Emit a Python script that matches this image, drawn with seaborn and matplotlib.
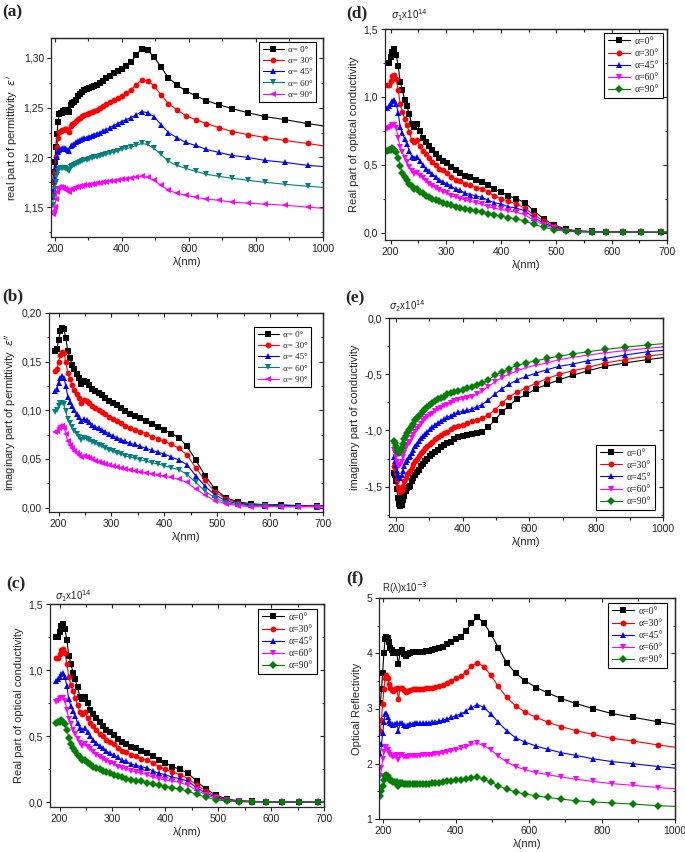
import matplotlib
matplotlib.use("Agg")
import matplotlib.pyplot as plt
from matplotlib.ticker import MultipleLocator, FuncFormatter
import seaborn as sns

# wavelength grid (nm)
lam = [193.8, 196.8, 200.0, 203.3, 206.7, 210.2, 213.8, 217.5, 221.4, 225.5,
       229.6, 234.0, 238.5, 243.1, 248.0, 253.1, 258.3, 263.8, 269.6, 275.6,
       281.8, 288.4, 295.2, 302.4, 310.0, 317.9, 326.3, 335.1, 344.4, 354.3,
       364.7, 375.8, 387.5, 400.0, 413.3, 427.6, 442.9, 459.3, 476.9, 496.0,
       516.7, 539.1, 563.6, 590.5, 620.0, 652.6, 688.9, 729.4, 775.0, 826.7,
       885.7, 953.8, 1033.3]

# (a) real part of permittivity
e1_0 = [1.175, 1.185, 1.195, 1.210, 1.224, 1.236, 1.244, 1.245, 1.245, 1.247,
        1.248, 1.246, 1.248, 1.246, 1.253, 1.255, 1.256, 1.258, 1.262, 1.264,
        1.266, 1.268, 1.269, 1.270, 1.271, 1.272, 1.273, 1.275, 1.277, 1.280,
        1.282, 1.285, 1.287, 1.289, 1.292, 1.296, 1.303, 1.309, 1.308, 1.301,
        1.291, 1.280, 1.273, 1.267, 1.262, 1.257, 1.253, 1.249, 1.245, 1.241,
        1.238, 1.234, 1.230]
e1_30 = [1.165, 1.175, 1.185, 1.200, 1.210, 1.220, 1.226, 1.227, 1.228, 1.228,
         1.229, 1.229, 1.228, 1.226, 1.232, 1.234, 1.235, 1.237, 1.239, 1.240,
         1.242, 1.243, 1.244, 1.245, 1.246, 1.247, 1.248, 1.250, 1.252, 1.254,
         1.256, 1.258, 1.260, 1.262, 1.265, 1.268, 1.273, 1.278, 1.277, 1.272,
         1.263, 1.254, 1.248, 1.242, 1.238, 1.234, 1.230, 1.226, 1.223, 1.220,
         1.217, 1.214, 1.210]
e1_45 = [1.160, 1.168, 1.178, 1.190, 1.200, 1.205, 1.207, 1.208, 1.208, 1.209,
         1.209, 1.208, 1.207, 1.206, 1.211, 1.212, 1.213, 1.215, 1.216, 1.217,
         1.218, 1.219, 1.220, 1.221, 1.222, 1.223, 1.224, 1.225, 1.227, 1.228,
         1.230, 1.232, 1.234, 1.236, 1.238, 1.240, 1.243, 1.246, 1.245, 1.241,
         1.233, 1.225, 1.220, 1.215, 1.212, 1.208, 1.205, 1.202, 1.200, 1.197,
         1.195, 1.192, 1.190]
e1_60 = [1.152, 1.160, 1.168, 1.175, 1.182, 1.186, 1.188, 1.189, 1.189, 1.189,
         1.189, 1.188, 1.187, 1.186, 1.190, 1.191, 1.192, 1.193, 1.194, 1.195,
         1.196, 1.197, 1.197, 1.198, 1.199, 1.200, 1.200, 1.201, 1.202, 1.203,
         1.204, 1.205, 1.206, 1.208, 1.209, 1.210, 1.212, 1.214, 1.213, 1.209,
         1.203, 1.196, 1.192, 1.189, 1.186, 1.183, 1.181, 1.179, 1.177, 1.175,
         1.173, 1.171, 1.169]
e1_90 = [1.143, 1.146, 1.150, 1.158, 1.165, 1.169, 1.170, 1.170, 1.169, 1.169,
         1.168, 1.167, 1.166, 1.165, 1.168, 1.168, 1.169, 1.170, 1.170, 1.171,
         1.171, 1.172, 1.172, 1.172, 1.173, 1.173, 1.174, 1.174, 1.175, 1.175,
         1.176, 1.176, 1.177, 1.178, 1.178, 1.179, 1.180, 1.181, 1.180, 1.177,
         1.172, 1.167, 1.164, 1.162, 1.160, 1.158, 1.157, 1.155, 1.154, 1.153,
         1.152, 1.150, 1.148]

# (b) imaginary part of permittivity
e2_0 = [0.161, 0.163, 0.172, 0.181, 0.185, 0.184, 0.174, 0.161, 0.154, 0.147,
        0.142, 0.137, 0.133, 0.127, 0.130, 0.129, 0.126, 0.122, 0.120, 0.118,
        0.116, 0.113, 0.110, 0.107, 0.105, 0.102, 0.099, 0.096, 0.094, 0.092,
        0.089, 0.086, 0.083, 0.080, 0.076, 0.072, 0.063, 0.049, 0.033, 0.019,
        0.010, 0.006, 0.004, 0.003, 0.003, 0.002, 0.002, 0.002, 0.001, 0.001,
        0.001, 0.001, 0.001]
e2_30 = [0.140, 0.142, 0.150, 0.157, 0.160, 0.159, 0.150, 0.138, 0.132, 0.126,
         0.121, 0.117, 0.113, 0.108, 0.111, 0.110, 0.107, 0.104, 0.102, 0.100,
         0.098, 0.096, 0.093, 0.091, 0.089, 0.087, 0.084, 0.082, 0.080, 0.078,
         0.076, 0.073, 0.071, 0.068, 0.065, 0.061, 0.054, 0.041, 0.028, 0.016,
         0.009, 0.005, 0.003, 0.003, 0.002, 0.002, 0.002, 0.001, 0.001, 0.001,
         0.001, 0.001, 0.001]
e2_45 = [0.120, 0.122, 0.128, 0.133, 0.135, 0.133, 0.125, 0.114, 0.109, 0.104,
         0.100, 0.096, 0.093, 0.089, 0.091, 0.090, 0.088, 0.085, 0.083, 0.082,
         0.080, 0.078, 0.076, 0.074, 0.072, 0.070, 0.068, 0.066, 0.065, 0.063,
         0.061, 0.059, 0.057, 0.055, 0.052, 0.049, 0.044, 0.033, 0.022, 0.013,
         0.007, 0.004, 0.003, 0.002, 0.002, 0.002, 0.001, 0.001, 0.001, 0.001,
         0.001, 0.001, 0.001]
e2_60 = [0.098, 0.100, 0.104, 0.107, 0.108, 0.106, 0.099, 0.091, 0.087, 0.083,
         0.079, 0.076, 0.073, 0.070, 0.072, 0.071, 0.069, 0.067, 0.066, 0.064,
         0.063, 0.061, 0.059, 0.058, 0.056, 0.055, 0.053, 0.052, 0.051, 0.049,
         0.048, 0.046, 0.045, 0.043, 0.041, 0.039, 0.034, 0.026, 0.017, 0.010,
         0.005, 0.003, 0.002, 0.002, 0.001, 0.001, 0.001, 0.001, 0.001, 0.001,
         0.001, 0.001, 0.001]
e2_90 = [0.078, 0.079, 0.082, 0.084, 0.084, 0.082, 0.076, 0.068, 0.064, 0.061,
         0.058, 0.056, 0.054, 0.052, 0.053, 0.052, 0.051, 0.050, 0.048, 0.047,
         0.046, 0.045, 0.044, 0.043, 0.042, 0.041, 0.040, 0.039, 0.038, 0.037,
         0.036, 0.035, 0.034, 0.032, 0.031, 0.029, 0.026, 0.019, 0.013, 0.007,
         0.004, 0.002, 0.001, 0.001, 0.001, 0.001, 0.001, 0.001, 0.001, 0.001,
         0.001, 0.001, 0.001]

# (c)/(d) real part of optical conductivity, x1e14
s1_0 = [1.25, 1.25, 1.29, 1.33, 1.35, 1.31, 1.23, 1.11, 1.05, 0.98,
        0.93, 0.87, 0.80, 0.78, 0.80, 0.75, 0.70, 0.67, 0.64, 0.61,
        0.58, 0.55, 0.53, 0.51, 0.48, 0.46, 0.44, 0.42, 0.41, 0.39,
        0.37, 0.35, 0.32, 0.30, 0.27, 0.25, 0.22, 0.16, 0.10, 0.055,
        0.025, 0.012, 0.008, 0.005, 0.004, 0.003, 0.002, 0.002, 0.002, 0.001,
        0.001, 0.001, 0.001]
s1_30 = [1.09, 1.09, 1.12, 1.15, 1.16, 1.13, 1.05, 0.95, 0.89, 0.84,
         0.79, 0.74, 0.68, 0.67, 0.68, 0.64, 0.60, 0.58, 0.55, 0.52,
         0.50, 0.47, 0.46, 0.44, 0.41, 0.39, 0.38, 0.36, 0.35, 0.33,
         0.32, 0.30, 0.27, 0.25, 0.23, 0.21, 0.18, 0.13, 0.085, 0.045,
         0.021, 0.010, 0.007, 0.005, 0.004, 0.003, 0.002, 0.002, 0.001, 0.001,
         0.001, 0.001, 0.001]
s1_45 = [0.92, 0.93, 0.95, 0.97, 0.98, 0.95, 0.88, 0.78, 0.73, 0.69,
         0.65, 0.60, 0.56, 0.55, 0.56, 0.53, 0.50, 0.47, 0.45, 0.43,
         0.41, 0.39, 0.37, 0.36, 0.34, 0.32, 0.31, 0.29, 0.28, 0.27,
         0.26, 0.24, 0.22, 0.21, 0.19, 0.18, 0.16, 0.11, 0.07, 0.038,
         0.018, 0.009, 0.006, 0.004, 0.003, 0.002, 0.002, 0.001, 0.001, 0.001,
         0.001, 0.001, 0.001]
s1_60 = [0.76, 0.77, 0.78, 0.79, 0.79, 0.77, 0.70, 0.63, 0.59, 0.55,
         0.52, 0.48, 0.45, 0.43, 0.44, 0.42, 0.40, 0.38, 0.36, 0.34,
         0.33, 0.31, 0.30, 0.29, 0.27, 0.26, 0.25, 0.24, 0.23, 0.22,
         0.21, 0.19, 0.18, 0.17, 0.16, 0.15, 0.13, 0.09, 0.058, 0.03,
         0.015, 0.007, 0.005, 0.003, 0.002, 0.002, 0.001, 0.001, 0.001, 0.001,
         0.001, 0.001, 0.001]
s1_90 = [0.60, 0.61, 0.61, 0.62, 0.61, 0.59, 0.55, 0.49, 0.44, 0.41,
         0.39, 0.36, 0.34, 0.32, 0.32, 0.30, 0.29, 0.27, 0.26, 0.25,
         0.24, 0.23, 0.22, 0.21, 0.20, 0.19, 0.18, 0.17, 0.165, 0.16,
         0.15, 0.14, 0.13, 0.12, 0.11, 0.10, 0.085, 0.06, 0.04, 0.02,
         0.01, 0.005, 0.003, 0.002, 0.002, 0.001, 0.001, 0.001, 0.001, 0.001,
         0.001, 0.001, 0.001]

# (e) imaginary part of conductivity, x1e14
s2_0 = [-1.38, -1.40, -1.45, -1.52, -1.60, -1.65, -1.67, -1.66, -1.62, -1.58,
        -1.54, -1.51, -1.50, -1.49, -1.45, -1.42, -1.40, -1.37, -1.35, -1.32,
        -1.30, -1.27, -1.25, -1.23, -1.21, -1.19, -1.17, -1.15, -1.13, -1.11,
        -1.10, -1.08, -1.06, -1.05, -1.04, -1.03, -1.02, -1.01, -0.97, -0.91,
        -0.84, -0.78, -0.72, -0.68, -0.63, -0.59, -0.55, -0.51, -0.47, -0.43,
        -0.40, -0.37, -0.34]
s2_30 = [-1.32, -1.34, -1.38, -1.44, -1.50, -1.54, -1.55, -1.53, -1.49, -1.45,
         -1.42, -1.39, -1.37, -1.36, -1.33, -1.30, -1.27, -1.25, -1.23, -1.20,
         -1.18, -1.16, -1.14, -1.12, -1.10, -1.08, -1.06, -1.04, -1.02, -1.01,
         -0.99, -0.97, -0.96, -0.95, -0.93, -0.92, -0.91, -0.89, -0.86, -0.82,
         -0.76, -0.70, -0.66, -0.62, -0.58, -0.54, -0.50, -0.47, -0.44, -0.40,
         -0.37, -0.34, -0.31]
s2_45 = [-1.24, -1.27, -1.31, -1.36, -1.40, -1.42, -1.42, -1.40, -1.36, -1.32,
         -1.28, -1.26, -1.24, -1.23, -1.20, -1.17, -1.14, -1.12, -1.09, -1.07,
         -1.05, -1.03, -1.01, -0.99, -0.97, -0.95, -0.93, -0.92, -0.90, -0.88,
         -0.87, -0.85, -0.84, -0.83, -0.82, -0.81, -0.79, -0.77, -0.73, -0.68,
         -0.63, -0.59, -0.55, -0.52, -0.49, -0.46, -0.43, -0.41, -0.38, -0.36,
         -0.33, -0.30, -0.28]
s2_60 = [-1.17, -1.20, -1.24, -1.28, -1.31, -1.32, -1.31, -1.28, -1.24, -1.20,
         -1.16, -1.13, -1.11, -1.10, -1.07, -1.04, -1.01, -0.99, -0.97, -0.94,
         -0.92, -0.90, -0.88, -0.86, -0.85, -0.83, -0.81, -0.80, -0.78, -0.77,
         -0.76, -0.74, -0.73, -0.72, -0.71, -0.70, -0.68, -0.65, -0.61, -0.57,
         -0.53, -0.50, -0.47, -0.44, -0.42, -0.40, -0.37, -0.35, -0.33, -0.31,
         -0.29, -0.27, -0.25]
s2_90 = [-1.09, -1.11, -1.14, -1.17, -1.19, -1.20, -1.19, -1.16, -1.12, -1.08,
         -1.05, -1.02, -1.00, -0.99, -0.96, -0.94, -0.91, -0.89, -0.87, -0.85,
         -0.83, -0.81, -0.79, -0.77, -0.76, -0.74, -0.72, -0.71, -0.70, -0.68,
         -0.67, -0.66, -0.65, -0.64, -0.62, -0.61, -0.60, -0.58, -0.55, -0.51,
         -0.48, -0.45, -0.42, -0.40, -0.38, -0.36, -0.34, -0.32, -0.30, -0.28,
         -0.26, -0.24, -0.22]

# (f) optical reflectivity, x1e-3
r_0 = [3.10, 3.35, 3.65, 4.00, 4.25, 4.30, 4.28, 4.20, 4.10, 4.05,
       4.00, 4.02, 4.00, 3.80, 4.03, 4.05, 3.98, 3.95, 3.98, 4.00,
       4.02, 4.02, 4.03, 4.03, 4.03, 4.04, 4.04, 4.05, 4.07, 4.09,
       4.12, 4.16, 4.20, 4.25, 4.30, 4.40, 4.55, 4.65, 4.55, 4.35,
       4.10, 3.83, 3.64, 3.50, 3.38, 3.28, 3.18, 3.09, 3.00, 2.91,
       2.84, 2.76, 2.68]
r_30 = [2.60, 2.80, 3.08, 3.35, 3.55, 3.60, 3.55, 3.45, 3.38, 3.33,
        3.32, 3.35, 3.37, 3.18, 3.37, 3.38, 3.33, 3.30, 3.32, 3.34,
        3.35, 3.35, 3.36, 3.36, 3.36, 3.37, 3.37, 3.38, 3.39, 3.41,
        3.43, 3.47, 3.50, 3.55, 3.58, 3.66, 3.77, 3.83, 3.76, 3.60,
        3.40, 3.20, 3.05, 2.93, 2.84, 2.75, 2.67, 2.60, 2.53, 2.46,
        2.41, 2.34, 2.27]
r_45 = [2.18, 2.35, 2.55, 2.75, 2.90, 2.92, 2.85, 2.78, 2.73, 2.72,
        2.70, 2.72, 2.73, 2.60, 2.74, 2.74, 2.70, 2.69, 2.71, 2.72,
        2.72, 2.73, 2.73, 2.73, 2.73, 2.74, 2.74, 2.75, 2.76, 2.77,
        2.79, 2.81, 2.84, 2.87, 2.90, 2.95, 3.02, 3.07, 3.02, 2.90,
        2.75, 2.60, 2.47, 2.39, 2.32, 2.26, 2.20, 2.15, 2.09, 2.04,
        2.00, 1.95, 1.90]
r_60 = [1.78, 1.92, 2.08, 2.22, 2.30, 2.30, 2.25, 2.20, 2.16, 2.14,
        2.13, 2.14, 2.15, 2.06, 2.15, 2.15, 2.12, 2.12, 2.13, 2.14,
        2.14, 2.14, 2.14, 2.14, 2.15, 2.15, 2.16, 2.16, 2.17, 2.18,
        2.19, 2.21, 2.23, 2.25, 2.28, 2.31, 2.35, 2.37, 2.33, 2.25,
        2.14, 2.03, 1.95, 1.89, 1.84, 1.80, 1.76, 1.72, 1.68, 1.64,
        1.61, 1.57, 1.53]
r_90 = [1.42, 1.50, 1.60, 1.70, 1.77, 1.79, 1.77, 1.73, 1.70, 1.68,
        1.67, 1.67, 1.67, 1.60, 1.66, 1.66, 1.64, 1.64, 1.64, 1.64,
        1.64, 1.64, 1.64, 1.64, 1.64, 1.64, 1.64, 1.65, 1.65, 1.66,
        1.67, 1.68, 1.69, 1.70, 1.71, 1.73, 1.75, 1.76, 1.72, 1.67,
        1.60, 1.54, 1.49, 1.45, 1.42, 1.39, 1.36, 1.33, 1.31, 1.29,
        1.27, 1.24, 1.22]

labels_sp = ["α= 0°", "α= 30°", "α= 45°", "α= 60°", "α= 90°"]
labels_ns = ["α=0°", "α=30°", "α=45°", "α=60°", "α=90°"]
colors_ab = ["black", "#ff0000", "#0000ff", "#008080", "#ff00ff"]
markers_ab = ["s", "o", "^", "v", "<"]
colors_cf = ["black", "#ff0000", "#0000ff", "#ff00ff", "#008000"]
markers_cf = ["s", "o", "^", "v", "D"]

sns.set_theme(style="ticks")
plt.rcParams["font.family"] = ["Liberation Sans", "DejaVu Sans"]
plt.rcParams["axes.linewidth"] = 0.9

W, H = 685, 852
fig = plt.figure(figsize=(W / 100, H / 100), dpi=100)


def box(l, t, r, b):
    return [l / W, 1 - b / H, (r - l) / W, (b - t) / H]


def comma(dec):
    def f(v, pos):
        if abs(v) < 1e-9:
            v = 0.0
        return f"{v:.{dec}f}".replace(".", ",")
    return FuncFormatter(f)


def panel(rect, series, labels, colors, markers, xlim, ylim, xmaj, xmin,
          ymaj, ymin, dec, ylabel, legloc, legpx, legsize):
    ax = fig.add_axes(box(*rect))
    for y, lab, c, m in zip(series, labels, colors, markers):
        sns.lineplot(x=lam, y=y, ax=ax, color=c, marker=m, markersize=4.2,
                     markeredgewidth=0, linewidth=0.8, label=lab,
                     errorbar=None)
    ax.set_xlim(*xlim)
    ax.set_ylim(*ylim)
    ax.xaxis.set_major_locator(MultipleLocator(xmaj))
    ax.xaxis.set_minor_locator(MultipleLocator(xmin))
    ax.yaxis.set_major_locator(MultipleLocator(ymaj))
    ax.yaxis.set_minor_locator(MultipleLocator(ymin))
    ax.yaxis.set_major_formatter(comma(dec))
    ax.tick_params(which="both", direction="out", top=False, right=False,
                   labelsize=7.5, pad=2, width=0.8)
    ax.tick_params(which="major", length=3)
    ax.tick_params(which="minor", length=1.8)
    # mirrored ticks on top/right pointing inward (Origin style)
    sx = ax.secondary_xaxis("top")
    sx.xaxis.set_major_locator(MultipleLocator(xmaj))
    sx.xaxis.set_minor_locator(MultipleLocator(xmin))
    sx.tick_params(which="both", direction="in", labeltop=False, width=0.8)
    sx.tick_params(which="major", length=3)
    sx.tick_params(which="minor", length=1.8)
    sy = ax.secondary_yaxis("right")
    sy.yaxis.set_major_locator(MultipleLocator(ymaj))
    sy.yaxis.set_minor_locator(MultipleLocator(ymin))
    sy.tick_params(which="both", direction="in", labelright=False, width=0.8)
    sy.tick_params(which="major", length=3)
    sy.tick_params(which="minor", length=1.8)
    ax.set_xlabel("λ(nm)", fontsize=8, labelpad=2)
    ax.set_ylabel(ylabel, fontsize=8, labelpad=3)
    # legend corner given in figure pixels
    l, t, r, b = rect
    anchor = ((legpx[0] - l) / (r - l), (b - legpx[1]) / (b - t))
    leg = ax.legend(loc=legloc, bbox_to_anchor=anchor, frameon=True,
                    fancybox=False, edgecolor="black", framealpha=1,
                    prop={"family": "Liberation Serif", "size": legsize},
                    handlelength=2.3, borderpad=0.4, labelspacing=0.32,
                    handletextpad=0.45, borderaxespad=0)
    leg.get_frame().set_linewidth(0.8)
    return ax


ax_a = panel((51, 38, 323, 237), [e1_0, e1_30, e1_45, e1_60, e1_90],
             labels_sp, colors_ab, markers_ab, (189, 1000), (1.12, 1.32),
             200, 100, 0.05, 0.025, 2, r"real part of permittivity  $\varepsilon'$",
             "upper right", (316, 42), 6.5)
ax_b = panel((49, 313, 323, 512), [e2_0, e2_30, e2_45, e2_60, e2_90],
             labels_sp, colors_ab, markers_ab, (182, 700), (-0.0045, 0.20),
             100, 50, 0.05, 0.025, 2, r"imaginary part of permittivity  $\varepsilon''$",
             "upper right", (311, 327), 6.5)
ax_c = panel((50, 604, 324, 807), [s1_0, s1_30, s1_45, s1_60, s1_90],
             labels_ns, colors_cf, markers_cf, (182, 700), (-0.035, 1.5),
             100, 50, 0.5, 0.25, 1, "Real part of optical conductivity",
             "upper right", (317, 609), 7)
ax_d = panel((385, 29, 667, 240), [s1_0, s1_30, s1_45, s1_60, s1_90],
             labels_ns, colors_cf, markers_cf, (190, 700), (-0.055, 1.5),
             100, 50, 0.5, 0.25, 1, "Real part of optical conductivity",
             "upper right", (663, 33), 7)
ax_e = panel((389, 318, 663, 517), [s2_0, s2_30, s2_45, s2_60, s2_90],
             labels_ns, colors_cf, markers_cf, (180, 1000), (-1.77, 0.0),
             200, 100, 0.5, 0.25, 1, "imaginary part of conductivity",
             "lower right", (655, 510), 7)
ax_f = panel((379, 598, 675, 819), [r_0, r_30, r_45, r_60, r_90],
             labels_ns, colors_cf, markers_cf, (190, 1000), (1.0, 5.0),
             200, 100, 1, 0.5, 0, "Optical Reflectivity",
             "upper right", (667, 603), 7)

# unit labels above the axes
unit_kw = dict(fontsize=7, va="bottom", ha="left")
ax_c.text(0.02, 1.0, r"$\sigma_1$x10$^{14}$", transform=ax_c.transAxes, **unit_kw)
ax_d.text(0.02, 1.03, r"$\sigma_1$x10$^{14}$", transform=ax_d.transAxes, **unit_kw)
ax_e.text(0.0, 1.02, r"$\sigma_2$x10$^{14}$", transform=ax_e.transAxes, **unit_kw)
ax_f.text(0.01, 1.01, r"R(λ)x10$^{-3}$", transform=ax_f.transAxes, **unit_kw)

# panel letters
lab_kw = dict(fontsize=12.5, fontweight="bold", family="Liberation Serif",
              va="top", ha="left")
for txt, x, y in [("(a)", 2, 4), ("(d)", 346, 5), ("(b)", 2, 288),
                  ("(e)", 345, 290), ("(c)", 6, 576), ("(f)", 346, 570)]:
    fig.text(x / W, 1 - y / H, txt, **lab_kw)

fig.savefig("out.png", dpi=100)
